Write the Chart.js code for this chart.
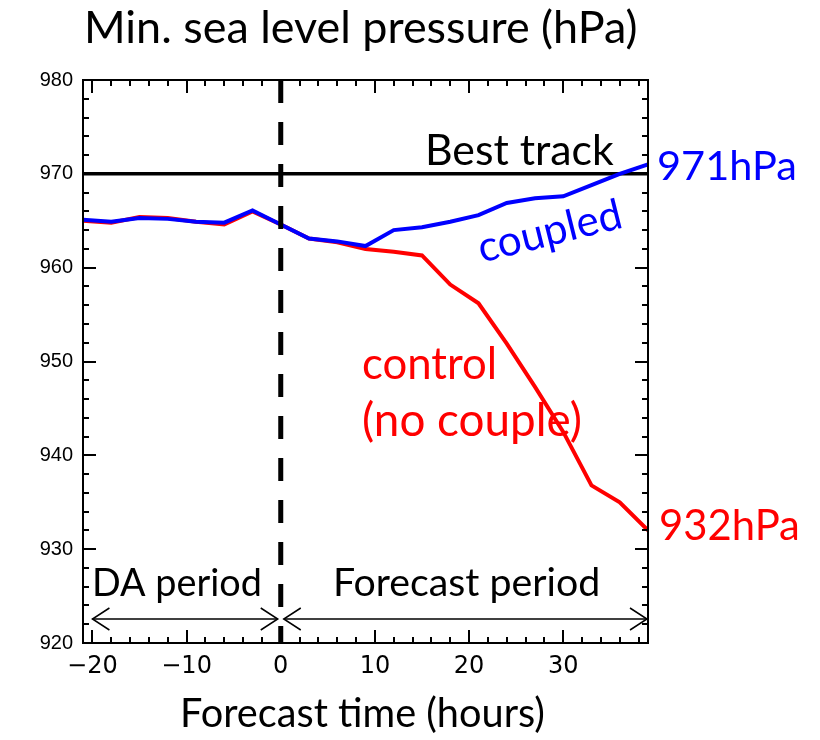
<!DOCTYPE html>
<html>
<head>
<meta charset="utf-8">
<script src="https://cdn.jsdelivr.net/npm/chart.js@4.4.1/dist/chart.umd.min.js"></script>
<style>
  html, body { margin: 0; padding: 0; background: #fff; }
  #slp { display: block; }
</style>
</head>
<body>
<canvas id="slp" width="820" height="740"></canvas>
<script>
  // forecast hours (negative = data assimilation window)
  const hours = [-21, -18, -15, -12, -9, -6, -3, 0, 3, 6, 9, 12, 15, 18, 21, 24, 27, 30, 33, 36, 39];
  // min. SLP of the coupled run
  const coupledHpa = [965.1, 964.9, 965.3, 965.2, 964.9, 964.8, 966.1, 964.6, 963.1, 962.8, 962.3,
                      964.0, 964.3, 964.9, 965.6, 966.9, 967.4, 967.6, 968.8, 970.0, 971];
  // min. SLP of the control run (no ocean coupling)
  const controlHpa = [965.0, 964.8, 965.4, 965.3, 964.9, 964.6, 966.0, 964.6, 963.1, 962.7, 962.0,
                      961.7, 961.3, 958.2, 956.2, 951.9, 947.3, 942.5, 936.8, 935.0, 932];
  const bestTrackHpa = 970;
  const xRange = [-21, 39];
  const yRange = [920, 980];
  const xTickHours = [-20, -10, 0, 10, 20, 30];
  const yTickHpa = [920, 930, 940, 950, 960, 970, 980];

  const BLUE = "#0000ff";
  const RED = "#ff0000";
  const TEXT_FONT = "Lato, 'Open Sans', sans-serif";

  function pairs(xs, ys) {
    return xs.map((x, i) => ({ x: x, y: ys[i] }));
  }

  // writes text so that it spans the given width
  function putText(ctx, txt, x, y, width, color, align) {
    ctx.font = "100px " + TEXT_FONT;
    const size = 100 * width / ctx.measureText(txt).width;
    ctx.font = size.toFixed(1) + "px " + TEXT_FONT;
    ctx.fillStyle = color;
    ctx.textAlign = align || "left";
    ctx.textBaseline = "alphabetic";
    ctx.fillText(txt, x, y);
  }

  function arrowHead(ctx, x, y, dir) {
    ctx.beginPath();
    ctx.moveTo(x - dir * 17, y - 11);
    ctx.lineTo(x, y);
    ctx.lineTo(x - dir * 17, y + 11);
    ctx.stroke();
  }

  const frameAndLabels = {
    id: "frameAndLabels",
    afterDraw(chart) {
      const ctx = chart.ctx;
      const area = chart.chartArea;
      const xs = chart.scales.x;
      const ys = chart.scales.y;
      ctx.save();

      // inward ticks on all four sides
      ctx.strokeStyle = "#000";
      ctx.lineWidth = 2;
      ctx.beginPath();
      for (let v = yRange[0]; v <= yRange[1]; v += 2) {
        const len = v % 10 === 0 ? 13 : 6;
        const py = Math.round(ys.getPixelForValue(v));
        ctx.moveTo(area.left, py); ctx.lineTo(area.left + len, py);
        ctx.moveTo(area.right, py); ctx.lineTo(area.right - len, py);
      }
      for (let h = -20; h < xRange[1]; h += 2) {
        const len = h % 10 === 0 ? 13 : 6;
        const px = Math.round(xs.getPixelForValue(h));
        ctx.moveTo(px, area.bottom); ctx.lineTo(px, area.bottom - len);
        ctx.moveTo(px, area.top); ctx.lineTo(px, area.top + len);
      }
      ctx.stroke();
      ctx.strokeRect(area.left, area.top, area.right - area.left, area.bottom - area.top);

      // period arrows
      const x0 = xs.getPixelForValue(0);
      const ay = area.bottom - 24;
      ctx.lineWidth = 1.5;
      const spans = [[xs.getPixelForValue(-20), x0 - 3], [x0 + 3, xs.getPixelForValue(xRange[1]) - 1]];
      spans.forEach(function (s) {
        ctx.beginPath();
        ctx.moveTo(s[0], ay); ctx.lineTo(s[1], ay);
        ctx.stroke();
        arrowHead(ctx, s[0], ay, -1);
        arrowHead(ctx, s[1], ay, 1);
      });

      // texts
      putText(ctx, "Min. sea level pressure (hPa)", 84, 43, 554, "#000");
      putText(ctx, "Best track", 425, 165, 189, "#000");
      putText(ctx, "971hPa", 657, 180, 140, BLUE);
      putText(ctx, "932hPa", 659, 540, 141, RED);
      putText(ctx, "control", 362, 379, 135, RED);
      putText(ctx, "(no couple)", 362, 436, 220, RED);
      putText(ctx, "DA period", 92, 596, 170, "#000");
      putText(ctx, "Forecast period", 333, 596, 267, "#000");
      putText(ctx, "Forecast time (hours)", 180, 727, 365, "#000");

      ctx.save();
      ctx.translate(553, 245);
      ctx.rotate(-14 * Math.PI / 180);
      putText(ctx, "coupled", 0, 0, 147, BLUE, "center");
      ctx.restore();

      ctx.restore();
    }
  };

  new Chart(document.getElementById("slp"), {
    type: "line",
    data: {
      datasets: [
        {
          // start of the free forecast
          data: [{ x: 0, y: yRange[1] }, { x: 0, y: yRange[0] }],
          borderColor: "#000",
          borderWidth: 5,
          borderDash: [23, 19],
          borderCapStyle: "butt"
        },
        {
          label: "coupled",
          data: pairs(hours, coupledHpa),
          borderColor: BLUE,
          borderWidth: 4
        },
        {
          label: "control",
          data: pairs(hours, controlHpa),
          borderColor: RED,
          borderWidth: 4
        },
        {
          label: "Best track",
          data: pairs(xRange, [bestTrackHpa, bestTrackHpa]),
          borderColor: "#000",
          borderWidth: 3.5
        }
      ]
    },
    options: {
      responsive: false,
      animation: false,
      devicePixelRatio: 1,
      elements: { point: { radius: 0 }, line: { tension: 0, fill: false } },
      layout: { padding: { top: 80, right: 172, bottom: 0, left: 0 } },
      plugins: { legend: { display: false }, tooltip: { enabled: false }, title: { display: false } },
      scales: {
        x: {
          type: "linear",
          min: xRange[0],
          max: xRange[1],
          afterBuildTicks: function (s) { s.ticks = xTickHours.map(v => ({ value: v })); },
          afterFit: function (s) { s.height = 97; },
          grid: { display: false, drawTicks: false },
          border: { display: false },
          ticks: {
            color: "#000",
            font: { family: "'DejaVu Sans', sans-serif", size: 24 },
            padding: 9,
            maxRotation: 0,
            autoSkip: false,
            callback: v => (v < 0 ? "\u2212" + Math.abs(v) : String(v))
          }
        },
        y: {
          type: "linear",
          min: yRange[0],
          max: yRange[1],
          afterBuildTicks: function (s) { s.ticks = yTickHpa.map(v => ({ value: v })); },
          afterFit: function (s) { s.width = 83; },
          grid: { display: false, drawTicks: false },
          border: { display: false },
          ticks: {
            color: "#000",
            font: { family: "'Liberation Sans', Arial, sans-serif", size: 20 },
            padding: 10,
            autoSkip: false
          }
        }
      }
    },
    plugins: [frameAndLabels]
  });
</script>
</body>
</html>
